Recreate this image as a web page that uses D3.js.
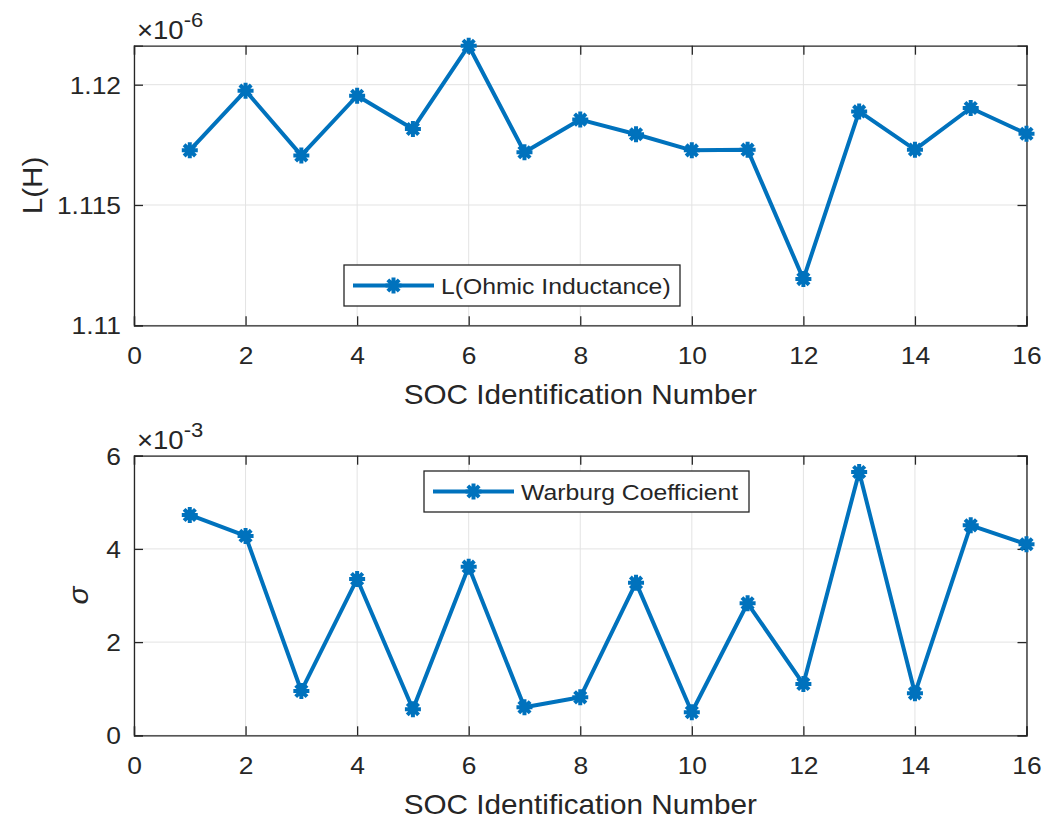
<!DOCTYPE html>
<html>
<head>
<meta charset="utf-8">
<script src="https://cdn.jsdelivr.net/npm/d3@7"></script>
<style>
  html, body { margin: 0; padding: 0; background: #fff; }
  svg { display: block; }
  text { font-family: "Liberation Sans", Helvetica, Arial, sans-serif; fill: #262626; }
</style>
</head>
<body>
<svg id="chart" width="1049" height="822"></svg>
<script>
// SOC identification numbers (x values shared by both panels)
const socIds = [1, 2, 3, 4, 5, 6, 7, 8, 9, 10, 11, 12, 13, 14, 15, 16];

// Ohmic inductance L (H)
const inductance = [
  1.11727e-6, 1.11975e-6, 1.11706e-6, 1.11954e-6, 1.11816e-6, 1.12162e-6,
  1.11719e-6, 1.11855e-6, 1.11794e-6, 1.11727e-6, 1.11730e-6, 1.11192e-6,
  1.11889e-6, 1.11730e-6, 1.11903e-6, 1.11796e-6
];

// Warburg coefficient sigma
const warburg = [
  4.728e-3, 4.278e-3, 0.951e-3, 3.355e-3, 0.558e-3, 3.619e-3,
  0.601e-3, 0.815e-3, 3.276e-3, 0.494e-3, 2.833e-3, 1.100e-3,
  5.651e-3, 0.901e-3, 4.506e-3, 4.099e-3
];

// Axis ticks and limits
const xTicks = [0, 2, 4, 6, 8, 10, 12, 14, 16];
const xDomain = [0, 16];
const lTicks = [1.11e-6, 1.115e-6, 1.12e-6];
const lDomain = [1.11e-6, 1.12162e-6];
const sTicks = [0, 2e-3, 4e-3, 6e-3];
const sDomain = [0, 6e-3];

const lineColor = "#0072BD";
const axisColor = "#262626";
const gridColor = "#e3e3e3";
const SX = 1.1;            // horizontal text stretch
const tickFont = 24;
const labelFont = 27;
const legendFont = 22.5;

const svg = d3.select("#chart");

function stretchedText(g, x, y, str, size, anchor) {
  return g.append("text")
    .attr("transform", `translate(${x},${y}) scale(${SX},1)`)
    .attr("text-anchor", anchor || "start")
    .style("font-size", size + "px")
    .text(str);
}

function asterisk(g, cx, cy, r) {
  const d = r * Math.SQRT1_2;
  g.append("path")
    .attr("d", `M${cx - r},${cy}L${cx + r},${cy}M${cx},${cy - r}L${cx},${cy + r}` +
               `M${cx - d},${cy - d}L${cx + d},${cy + d}M${cx - d},${cy + d}L${cx + d},${cy - d}`)
    .attr("stroke", lineColor)
    .attr("stroke-width", 4)
    .attr("fill", "none");
  g.append("circle").attr("cx", cx).attr("cy", cy).attr("r", r * 0.45).attr("fill", lineColor);
}

function panel(opts) {
  const { top, bottom, left, right, yDomain, yTicks, yFmt, values, expo, ylabel, ylabelX, ylabelItalic, legend } = opts;
  const g = svg.append("g");
  const x = d3.scaleLinear().domain(xDomain).range([left, right]);
  const y = d3.scaleLinear().domain(yDomain).range([bottom, top]);

  // white plotting area
  g.append("rect").attr("x", left).attr("y", top)
    .attr("width", right - left).attr("height", bottom - top).attr("fill", "#fff");

  // grid
  g.append("g").selectAll("line").data(xTicks).join("line")
    .attr("x1", d => x(d)).attr("x2", d => x(d))
    .attr("y1", top).attr("y2", bottom)
    .attr("stroke", gridColor).attr("stroke-width", 1);
  g.append("g").selectAll("line").data(yTicks).join("line")
    .attr("x1", left).attr("x2", right)
    .attr("y1", d => y(d)).attr("y2", d => y(d))
    .attr("stroke", gridColor).attr("stroke-width", 1);

  // axes (inward ticks on all four sides)
  const tk = 9;
  const bottomAxis = g.append("g").attr("transform", `translate(0,${bottom})`)
    .call(d3.axisBottom(x).tickValues(xTicks).tickSize(-tk).tickPadding(0).tickFormat(d3.format("d")));
  const topAxis = g.append("g").attr("transform", `translate(0,${top})`)
    .call(d3.axisTop(x).tickValues(xTicks).tickSize(-tk).tickFormat(""));
  const leftAxis = g.append("g").attr("transform", `translate(${left},0)`)
    .call(d3.axisLeft(y).tickValues(yTicks).tickSize(-tk).tickFormat(yFmt));
  const rightAxis = g.append("g").attr("transform", `translate(${right},0)`)
    .call(d3.axisRight(y).tickValues(yTicks).tickSize(-tk).tickFormat(""));
  [bottomAxis, topAxis, leftAxis, rightAxis].forEach(a => {
    a.select(".domain").attr("stroke", axisColor).attr("stroke-width", 1.3);
    a.selectAll(".tick line").attr("stroke", axisColor).attr("stroke-width", 1.3);
  });
  bottomAxis.selectAll(".tick text")
    .attr("x", null).attr("y", null).attr("dy", null)
    .attr("transform", `translate(0,${364 - 325.3}) scale(${SX},1)`)
    .attr("fill", axisColor)
    .style("font-size", tickFont + "px").style("font-family", null);
  leftAxis.selectAll(".tick text")
    .attr("x", null).attr("dy", null)
    .attr("transform", `translate(-13,8.5) scale(${SX},1)`)
    .attr("fill", axisColor)
    .style("font-size", tickFont + "px").style("font-family", null);

  // exponent label
  const ex = g.append("text")
    .attr("transform", `translate(${left + 3},${top - 6.4}) scale(${SX},1)`)
    .style("font-size", "25px");
  ex.append("tspan").text("\u00d710");
  ex.append("tspan").attr("dy", -12).style("font-size", "20px").text(expo);

  // x label
  stretchedText(g, (left + right) / 2, bottom + 79, "SOC Identification Number", labelFont, "middle");

  // y label (rotated)
  g.append("text")
    .attr("transform", `translate(${ylabelX},${(top + bottom) / 2}) rotate(-90) scale(${SX},1)`)
    .attr("text-anchor", "middle")
    .style("font-size", labelFont + "px")
    .style("font-style", ylabelItalic ? "italic" : "normal")
    .text(ylabel);

  // series line
  const line = d3.line().x((d, i) => x(socIds[i])).y(d => y(d));
  g.append("path").datum(values)
    .attr("d", line)
    .attr("fill", "none")
    .attr("stroke", lineColor)
    .attr("stroke-width", 4)
    .attr("stroke-linejoin", "round");
  values.forEach((v, i) => asterisk(g, x(socIds[i]), y(v), 8));

  // legend
  const lg = g.append("g");
  lg.append("rect")
    .attr("x", legend.x0).attr("y", legend.y0)
    .attr("width", legend.x1 - legend.x0).attr("height", legend.y1 - legend.y0)
    .attr("fill", "#fff").attr("stroke", axisColor).attr("stroke-width", 1.3);
  const cy = (legend.y0 + legend.y1) / 2;
  lg.append("line")
    .attr("x1", legend.x0 + 9).attr("x2", legend.x0 + 90)
    .attr("y1", cy).attr("y2", cy)
    .attr("stroke", lineColor).attr("stroke-width", 4);
  asterisk(lg, legend.x0 + 49.5, cy, 8);
  stretchedText(lg, legend.x0 + 97, cy + 8, legend.text, legendFont, "start").attr("fill", "#000");
}

panel({
  top: 45.7, bottom: 325.3, left: 134, right: 1026.5,
  yDomain: lDomain, yTicks: lTicks,
  yFmt: d => d3.format("")(+(d / 1e-6).toFixed(3)),
  values: inductance, expo: "-6",
  ylabel: "L(H)", ylabelX: 42, ylabelItalic: false,
  legend: { x0: 344, x1: 680, y0: 265, y1: 306, text: "L(Ohmic Inductance)" }
});

panel({
  top: 455.7, bottom: 735.3, left: 134, right: 1026.5,
  yDomain: sDomain, yTicks: sTicks,
  yFmt: d => d3.format("")(+(d / 1e-3).toFixed(0)),
  values: warburg, expo: "-3",
  ylabel: "\u03c3", ylabelX: 88, ylabelItalic: true,
  legend: { x0: 424, x1: 749, y0: 471, y1: 512, text: "Warburg Coefficient" }
});
</script>
</body>
</html>
